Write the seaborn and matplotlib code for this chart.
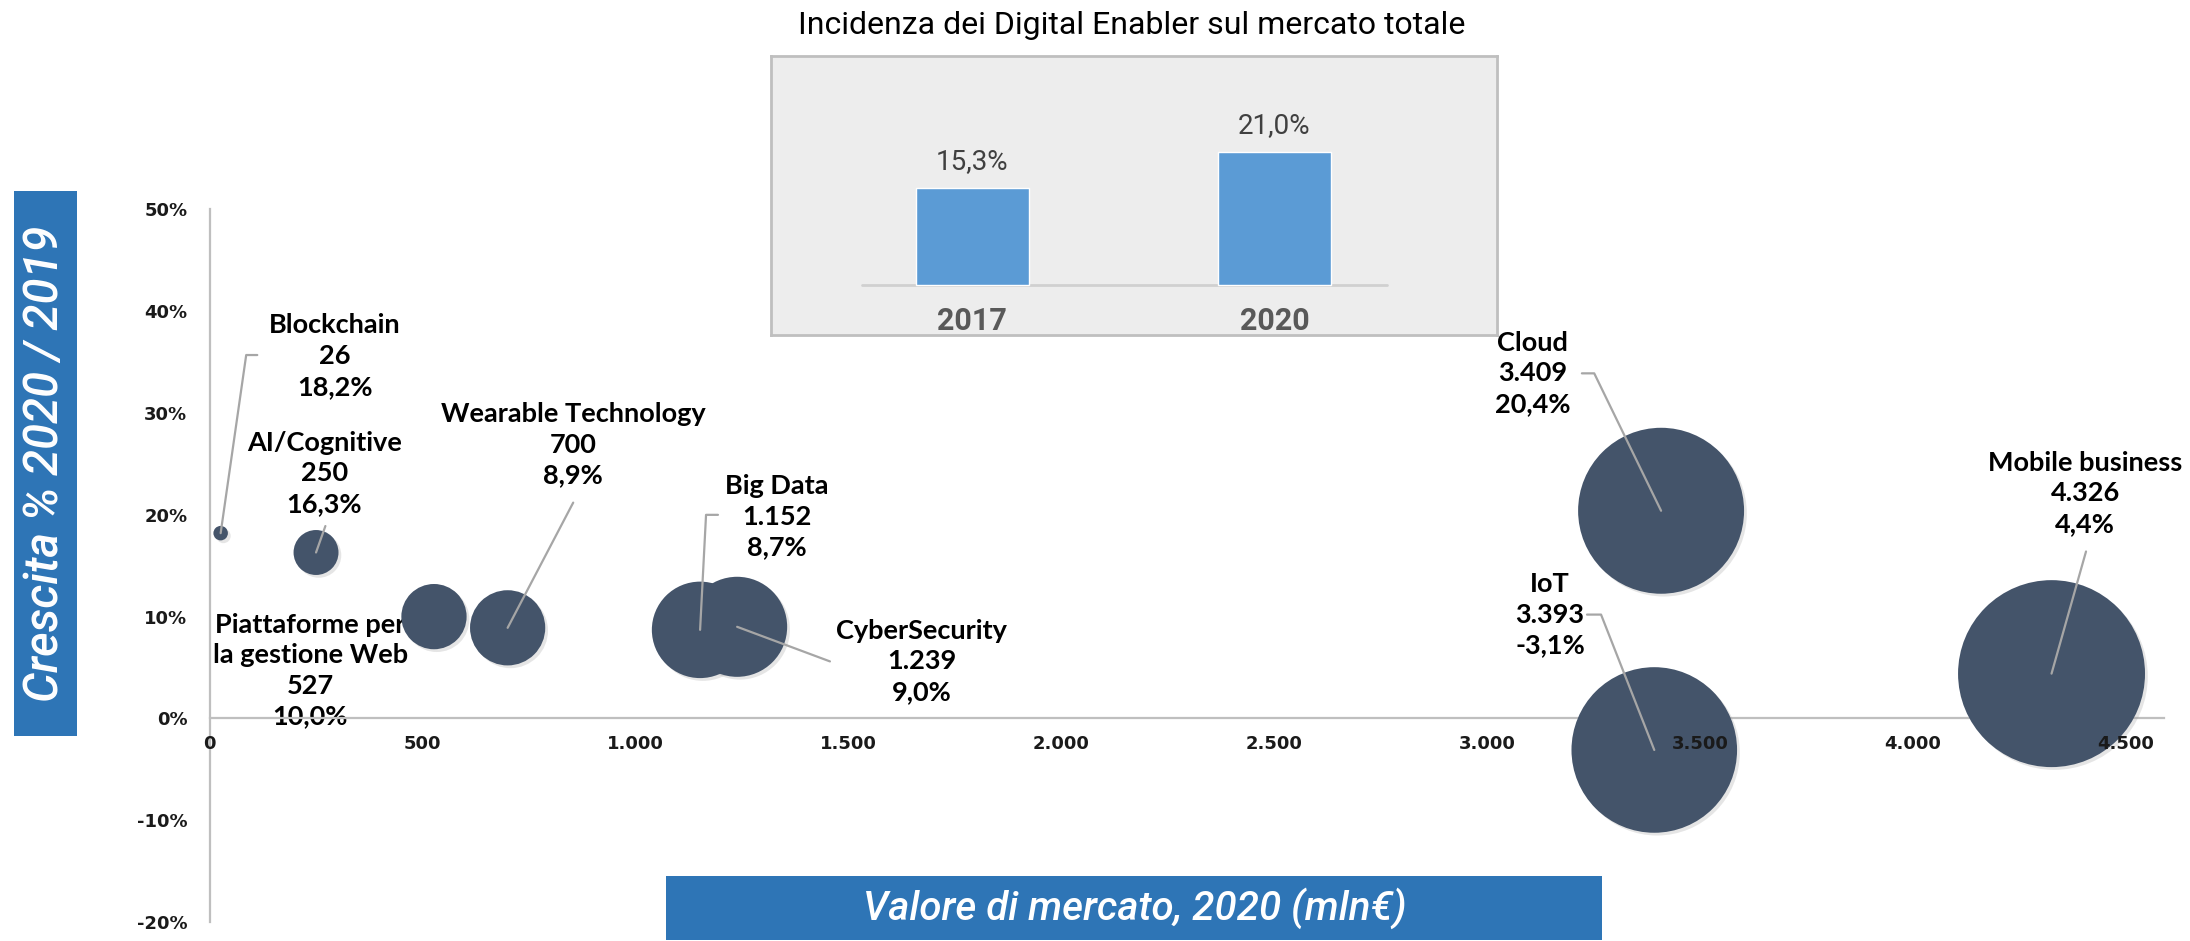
import numpy as np
import pandas as pd
import matplotlib
matplotlib.use("Agg")
import matplotlib.pyplot as plt
import matplotlib.patheffects as pe
from matplotlib.patches import Rectangle
import seaborn as sns

# ── Data ──────────────────────────────────────────────────────────────────
enablers = ["Blockchain", "AI/Cognitive", "Piattaforme per\nla gestione Web",
            "Wearable Technology", "Big Data", "CyberSecurity",
            "Cloud", "IoT", "Mobile business"]
valore   = [26, 250, 527, 700, 1152, 1239, 3409, 3393, 4326]      # mln€ 2020
crescita = [18.2, 16.3, 10.0, 8.9, 8.7, 9.0, 20.4, -3.1, 4.4]     # % 2020/2019

anni      = ["2017", "2020"]
incidenza = [15.3, 21.0]                                          # % mercato totale

x_ticks = [0, 500, 1000, 1500, 2000, 2500, 3000, 3500, 4000, 4500]
y_ticks = [-20, -10, 0, 10, 20, 30, 40, 50]

# ── Label layout (data coords): text centre + leader waypoints ────────────
label_pos = [(294, 35.6), (269, 24.1), (236, 4.7), (854, 26.9), (1333, 19.8),
             (1673, 5.6), (3108, 33.9), (3148, 10.2), (4405, 22.1)]
leader_pts = [[(112, 35.7), (86, 35.7)],
              [(272, 18.9)],
              [],
              [(854, 21.2)],
              [(1194, 20.0), (1166, 20.0)],
              [(1457, 5.6)],
              [(3223, 33.9), (3252, 33.9)],
              [(3235, 10.2), (3268, 10.2)],
              [(4407, 16.4)]]

# ── Style ─────────────────────────────────────────────────────────────────
sns.set_theme(style="white")
plt.rcParams['font.family'] = ['Lato', 'DejaVu Sans']
NARROW = ['Liberation Sans Narrow', 'Roboto', 'DejaVu Sans']
BLUE   = '#2E75B6'
BUBBLE = '#44546A'
AXIS   = '#BFBFBF'
LEADER = '#A6A6A6'

def it_num(v):
    return f"{v:,}".replace(",", ".")

def it_pct(v):
    return f"{v:.1f}%".replace(".", ",")

df = pd.DataFrame({'enabler': enablers, 'valore': valore, 'crescita': crescita})

fig = plt.figure(figsize=(21.9, 9.41), dpi=100)

# ── Bubble chart ──────────────────────────────────────────────────────────
ax = fig.add_axes([0.0957, 0.0202, 0.8924, 0.7572])
ax.patch.set_alpha(0)
sns.scatterplot(data=df, x='valore', y='crescita', size='valore',
                sizes=(0, 18120), size_norm=(0, max(valore)),
                color=BUBBLE, linewidth=0, alpha=1, legend=False,
                ax=ax, zorder=3)
ax.collections[0].set_path_effects([
    pe.SimplePatchShadow(offset=(2, -2), shadow_rgbFace='#9A9A9A', alpha=0.25),
    pe.Normal()])

# spine position first: moving it resets the tick objects
ax.spines['top'].set_visible(False)
ax.spines['right'].set_visible(False)
ax.spines['left'].set_color(AXIS)
ax.spines['left'].set_linewidth(1.6)
ax.spines['bottom'].set_position(('data', 0))
ax.spines['bottom'].set_color(AXIS)
ax.spines['bottom'].set_linewidth(1.6)

ax.set_xlim(0, 4590)
ax.set_ylim(-20, 50)
ax.set_xticks(x_ticks, labels=[it_num(v) for v in x_ticks],
              fontweight='bold', fontsize=13, family='DejaVu Sans')
ax.set_yticks(y_ticks, labels=[f"{v}%" for v in y_ticks],
              fontweight='bold', fontsize=13, family='DejaVu Sans')
ax.tick_params(axis='x', length=0, pad=12, colors='#1A1A1A')
ax.tick_params(axis='y', length=0, pad=16, colors='#1A1A1A')
ax.xaxis.set_zorder(5)   # tick labels sit on top of the bubbles
ax.set_xlabel('')
ax.set_ylabel('')

for name, v, g, (tx, ty), pts in zip(enablers, valore, crescita,
                                     label_pos, leader_pts):
    ax.text(tx, ty, f"{name}\n{it_num(v)}\n{it_pct(g)}", ha='center',
            va='center', fontsize=19.5, fontweight='bold', color='black',
            linespacing=1.33, zorder=2)
    if pts:
        xs = [p[0] for p in pts] + [v]
        ys = [p[1] for p in pts] + [g]
        ax.plot(xs, ys, color=LEADER, lw=1.6, zorder=4)

# ── Inset: incidenza sul mercato totale ───────────────────────────────────
axi = fig.add_axes([771 / 2190, (941 - 335) / 941, 726 / 2190, 279 / 941])
axi.set_facecolor('#EDEDED')
sns.barplot(x=anni, y=incidenza, color='#5B9BD5', saturation=1,
            width=0.374, ax=axi, zorder=2)
axi.set_xlim(-0.667, 1.737)
axi.set_ylim(-7.94, 36.3)
axi.plot([-0.366, 1.372], [0, 0], color='#D0D0D0', lw=2, zorder=1)
axi.set_xticks([])
axi.set_yticks([])
for sp in axi.spines.values():
    sp.set_color(AXIS)
    sp.set_linewidth(2)
for i, (a, v) in enumerate(zip(anni, incidenza)):
    axi.text(i, v + 4.3, it_pct(v), ha='center', va='center',
             fontsize=20, color='#404040', family=NARROW)
    axi.text(i, -5.7, a, ha='center', va='center', fontsize=22,
             fontweight='bold', color='#595959', family=NARROW)

fig.text(1132 / 2190, 1 - 25 / 941,
         "Incidenza dei Digital Enabler sul mercato totale",
         ha='center', va='center', fontsize=23, color='black', family=NARROW)

# ── Blue axis title boxes ─────────────────────────────────────────────────
fig.add_artist(Rectangle((14 / 2190, (941 - 736) / 941), 63 / 2190, 545 / 941,
                         transform=fig.transFigure, facecolor=BLUE,
                         edgecolor='none'))
fig.text(45.5 / 2190, 1 - 464 / 941, "Crescita % 2020 / 2019", rotation=90,
         ha='center', va='center', color='white', fontstyle='italic',
         fontweight='medium', fontsize=34, family=NARROW)

fig.add_artist(Rectangle((666 / 2190, 1 / 941), 936 / 2190, 64 / 941,
                         transform=fig.transFigure, facecolor=BLUE,
                         edgecolor='none'))
fig.text(1135 / 2190, 1 - 908 / 941, "Valore di mercato, 2020 (mln€)",
         ha='center', va='center', color='white', fontstyle='italic',
         fontweight='medium', fontsize=29, family=NARROW)

fig.savefig('out.png', dpi=100)
